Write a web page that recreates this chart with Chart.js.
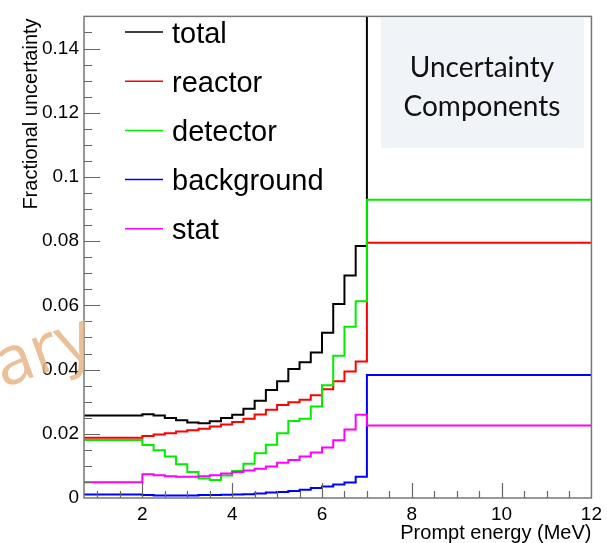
<!DOCTYPE html>
<html lang="en">
<head>
    <meta charset="UTF-8">
    <title>Uncertainty components</title>
    <script src="https://cdn.jsdelivr.net/npm/chart.js"></script>
    <style>
        html, body { margin: 0; padding: 0; background: #fff; }
        #wrap { width: 607px; height: 543px; }
    </style>
</head>
<body>
    <div id="wrap"><canvas id="grafica"></canvas></div>
    <script>
        // bin edges (MeV): first wide bin, 0.25 MeV bins, last wide bin
        var edges = [0.7, 2.0, 2.25, 2.5, 2.75, 3.0, 3.25, 3.5, 3.75, 4.0, 4.25, 4.5, 4.75,
                     5.0, 5.25, 5.5, 5.75, 6.0, 6.25, 6.5, 6.75, 7.0, 12.0];
        var total = [0.0257, 0.0261, 0.0257, 0.0249, 0.0242, 0.0235, 0.0233, 0.0239, 0.0249, 0.0259, 0.0278,
                     0.0303, 0.0336, 0.0364, 0.0402, 0.0423, 0.0453, 0.0515, 0.0604, 0.0693, 0.0785, 0.2];
        var reactor = [0.0188, 0.0193, 0.0198, 0.0202, 0.0207, 0.0211, 0.0216, 0.0223, 0.0229, 0.0237, 0.0247,
                       0.0260, 0.0275, 0.0290, 0.0298, 0.0306, 0.0320, 0.0339, 0.0364, 0.0394, 0.0425, 0.0795];
        var detector = [0.0181, 0.0165, 0.0149, 0.0129, 0.0105, 0.0081, 0.0061, 0.0056, 0.0070, 0.0084, 0.0107,
                        0.0139, 0.0166, 0.0202, 0.0240, 0.0247, 0.0285, 0.0351, 0.0443, 0.0533, 0.0613, 0.0929];
        var background = [0.0011, 0.0009, 0.0008, 0.0008, 0.0008, 0.0008, 0.0009, 0.0009, 0.0010, 0.0011, 0.0012,
                          0.0014, 0.0017, 0.0019, 0.0022, 0.0026, 0.0031, 0.0036, 0.0042, 0.0048, 0.0066, 0.0383];
        var stat = [0.0049, 0.0074, 0.0071, 0.0068, 0.0066, 0.0066, 0.0068, 0.0071, 0.0076, 0.0081, 0.0086,
                    0.0091, 0.0098, 0.0110, 0.0118, 0.0129, 0.0142, 0.0157, 0.0180, 0.0213, 0.0259, 0.0226];
        var xTicks = [2, 4, 6, 8, 10, 12];
        var yTicks = [0, 0.02, 0.04, 0.06, 0.08, 0.1, 0.12, 0.14];

        var sansFont = '"Liberation Sans", Arial, sans-serif';

        // histogram -> points at bin left edges plus closing point at last edge
        function histo(vals) {
            return edges.map(function (e, i) {
                return { x: e, y: vals[Math.min(i, vals.length - 1)] };
            });
        }

        function serie(label, vals, color, order) {
            return {
                label: label,
                data: histo(vals),
                borderColor: color,
                backgroundColor: color,
                borderWidth: 2,
                pointRadius: 0,
                stepped: true,
                fill: false,
                order: order
            };
        }

        // frame, inward ticks, axis titles, legend, text box and watermark
        var decoraciones = {
            id: 'decoraciones',
            afterDraw: function (chart) {
                var ctx = chart.ctx;
                var a = chart.chartArea;
                var xs = chart.scales.x, ys = chart.scales.y;
                var v, p;
                ctx.save();

                // ticks
                ctx.strokeStyle = '#666';
                ctx.lineWidth = 1.2;
                ctx.beginPath();
                for (v = 1; v < 12; v += 0.5) {
                    p = Math.round(xs.getPixelForValue(v)) + 0.5;
                    var lx = (v % 2 === 0) ? 15 : 7;
                    ctx.moveTo(p, a.bottom);
                    ctx.lineTo(p, a.bottom - lx);
                }
                for (v = 0.005; v < 0.15; v += 0.005) {
                    p = Math.round(ys.getPixelForValue(v)) + 0.5;
                    var major = Math.abs(v / 0.02 - Math.round(v / 0.02)) < 1e-6;
                    ctx.moveTo(a.left, p);
                    ctx.lineTo(a.left + (major ? 16 : 8), p);
                }
                ctx.stroke();

                // frame
                ctx.strokeStyle = '#777';
                ctx.lineWidth = 1.5;
                ctx.strokeRect(a.left, a.top, a.right - a.left, a.bottom - a.top);

                // axis titles
                ctx.fillStyle = '#000';
                ctx.font = '20px ' + sansFont;
                ctx.textAlign = 'right';
                ctx.textBaseline = 'alphabetic';
                ctx.fillText('Prompt energy (MeV)', a.right, 539);
                ctx.save();
                ctx.translate(37, a.top + 2);
                ctx.rotate(-Math.PI / 2);
                ctx.fillText('Fractional uncertainty', 0, 0);
                ctx.restore();

                // legend
                ctx.font = '29px ' + sansFont;
                ctx.textAlign = 'left';
                var orden = ['total', 'reactor', 'detector', 'background', 'stat'];
                orden.forEach(function (nombre, i) {
                    var ds = chart.data.datasets.find(function (d) { return d.label === nombre; });
                    var y = 32 + i * 49.2;
                    ctx.strokeStyle = ds.borderColor;
                    ctx.lineWidth = 1.5;
                    ctx.beginPath();
                    ctx.moveTo(125, y);
                    ctx.lineTo(163, y);
                    ctx.stroke();
                    ctx.fillStyle = '#000';
                    ctx.fillText(nombre, 172, y + 10.5);
                });

                // text box
                ctx.fillStyle = '#f0f4f9';
                ctx.fillRect(381, 18, 203, 130);
                ctx.fillStyle = '#111';
                ctx.font = '28px Lato, "Open Sans", sans-serif';
                ctx.textAlign = 'center';
                ctx.fillText('Uncertainty', 482, 77);
                ctx.fillText('Components', 482, 116);

                // watermark (only the end of the word shows)
                ctx.translate(97, 354);
                ctx.rotate(-20 * Math.PI / 180);
                ctx.fillStyle = 'rgba(232, 180, 134, 0.85)';
                ctx.font = '68px "Open Sans", sans-serif';
                ctx.textAlign = 'right';
                ctx.fillText('Preliminary', 0, 0);

                ctx.restore();
            }
        };

        var ctx = document.getElementById('grafica').getContext('2d');
        var myChart = new Chart(ctx, {
            type: 'line',
            data: {
                datasets: [
                    serie('total', total, '#000000', 5),
                    serie('reactor', reactor, '#ff0000', 4),
                    serie('detector', detector, '#00ee00', 3),
                    serie('background', background, '#0000ff', 2),
                    serie('stat', stat, '#ff00ff', 1)
                ]
            },
            options: {
                responsive: true,
                maintainAspectRatio: false,
                animation: false,
                layout: { padding: { top: 8, right: 14, left: 0, bottom: 0 } },
                plugins: {
                    legend: { display: false },
                    tooltip: { enabled: false }
                },
                scales: {
                    x: {
                        type: 'linear',
                        min: 0.7,
                        max: 12,
                        grid: { display: false, drawTicks: false },
                        border: { display: false },
                        afterFit: function (scale) { scale.height = 45; },
                        afterBuildTicks: function (scale) {
                            scale.ticks = xTicks.map(function (t) { return { value: t }; });
                        },
                        ticks: {
                            color: '#000',
                            font: { family: sansFont, size: 19 },
                            padding: 5,
                            maxRotation: 0,
                            callback: function (v) { return String(v); }
                        }
                    },
                    y: {
                        min: 0,
                        max: 0.15,
                        grid: { display: false, drawTicks: false },
                        border: { display: false },
                        afterFit: function (scale) { scale.width = 84; },
                        afterBuildTicks: function (scale) {
                            scale.ticks = yTicks.map(function (t) { return { value: t }; });
                        },
                        ticks: {
                            color: '#000',
                            font: { family: sansFont, size: 19 },
                            padding: 5,
                            callback: function (v) { return String(+v.toFixed(3)); }
                        }
                    }
                }
            },
            plugins: [decoraciones]
        });
    </script>
</body>
</html>
